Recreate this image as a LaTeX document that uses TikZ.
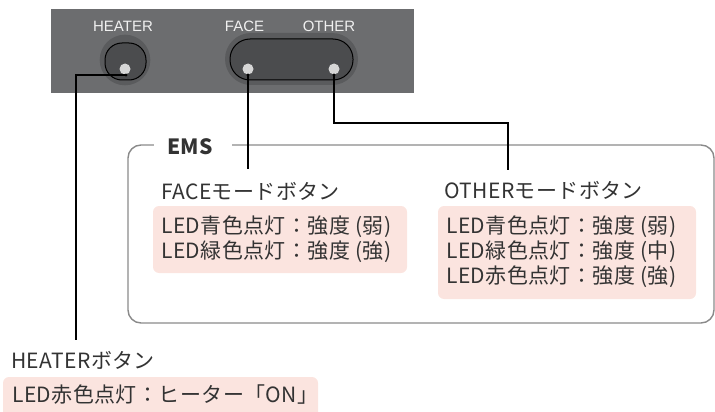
\documentclass[tikz,border=0pt]{standalone}
\usepackage{fontspec}
\setmainfont{Noto Sans CJK JP}[LetterSpace=2]
\newfontfamily\panelfont{Liberation Sans}
\definecolor{panelgray}{HTML}{6C6D6F}
\definecolor{halogray}{HTML}{5A5B5D}
\definecolor{btngray}{HTML}{4B4C4E}
\definecolor{ledgray}{HTML}{D6D6D6}
\definecolor{pinkfill}{HTML}{FBE4DF}
\definecolor{txtcol}{HTML}{333333}
\definecolor{boxline}{HTML}{8A8A8A}
\tikzset{
  paneltxt/.style={text=white!94!black, font=\panelfont\fontsize{15}{15}\selectfont, inner sep=0pt, anchor=base},
  bodytxt/.style={text=txtcol, font=\fontsize{21}{25}\selectfont, inner sep=0pt, anchor=base west},
  pinkbox/.style={fill=pinkfill, rounded corners=6pt, draw=none},
  conn/.style={draw=black, line width=1.1pt},
  led/.style={circle, fill=ledgray, minimum size=11pt, inner sep=0pt},
  cdot/.style={circle, fill=black, minimum size=3.4pt, inner sep=0pt},
}
\begin{document}
\begin{tikzpicture}[x=1pt,y=-1pt]
\useasboundingbox (0,0) rectangle (715,412);
\clip (0,0) rectangle (715,412);
% panel
\fill[panelgray] (51,9) rectangle (414,93);
\fill[halogray] (125,60) circle (25.3);
\filldraw[fill=btngray, draw=black, line width=1pt, rounded corners=17pt] (105,43) rectangle (146,80);
\fill[halogray, rounded corners=26pt] (225,33) rectangle (358,85);
\filldraw[fill=btngray, draw=black, line width=1pt, rounded corners=20pt] (230,39) rectangle (353,80);
\node[led] (hled) at (125,69) {};
\node[led] (fled) at (248,69) {};
\node[led] (oled) at (334,69) {};
\node[paneltxt] (hlab) at (123,32) {HEATER};
\node[paneltxt] (flab) at (244.5,32) {FACE};
\node[paneltxt] (olab) at (329,32) {OTHER};
% EMS box
\draw[boxline, line width=1.4pt, rounded corners=13pt] (128,145) rectangle (714,323);
\node[fill=white, inner sep=0pt, minimum width=78pt, minimum height=10pt] (gap) at (193,145) {};
\node[text=txtcol, font=\bfseries\fontsize{21}{21}\selectfont, inner sep=0pt, anchor=base] (ems) at (190,154) {EMS};
% connector dots and lines
\node[cdot] (hd) at (126,75) {};
\node[cdot] (fd) at (248,75) {};
\node[cdot] (od) at (334,75) {};
\coordinate (hturn) at (76,75);
\coordinate (hend) at (76,340);
\coordinate (fend) at (248,169);
\coordinate (oturn1) at (334,123);
\coordinate (oturn2) at (508,123);
\coordinate (oend) at (508,170);
\draw[conn] (hd.center) -- (hturn) -- (hend);
\draw[conn] (fd.center) -- (fend);
\draw[conn] (od.center) -- (oturn1) -- (oturn2) -- (oend);
% pink boxes
\fill[pinkbox] (153,206) rectangle (407,273);
\fill[pinkbox] (438,206) rectangle (696,299);
\fill[pinkbox] (3,377) rectangle (318,425);
% texts
\node[bodytxt] (ftitle) at (161,199) {FACEモードボタン};
\node[bodytxt] (f1) at (161,233) {LED青色点灯：強度 (弱)};
\node[bodytxt] (f2) at (161,258) {LED緑色点灯：強度 (強)};
\node[bodytxt] (otitle) at (444,198) {OTHERモードボタン};
\node[bodytxt] (o1) at (446,233) {LED青色点灯：強度 (弱)};
\node[bodytxt] (o2) at (446,258) {LED緑色点灯：強度 (中)};
\node[bodytxt] (o3) at (446,283) {LED赤色点灯：強度 (強)};
\node[bodytxt] (htitle) at (11,368) {HEATERボタン};
\node[bodytxt] (h1) at (12,402) {LED赤色点灯：ヒーター「ON」};
\end{tikzpicture}
\end{document}
